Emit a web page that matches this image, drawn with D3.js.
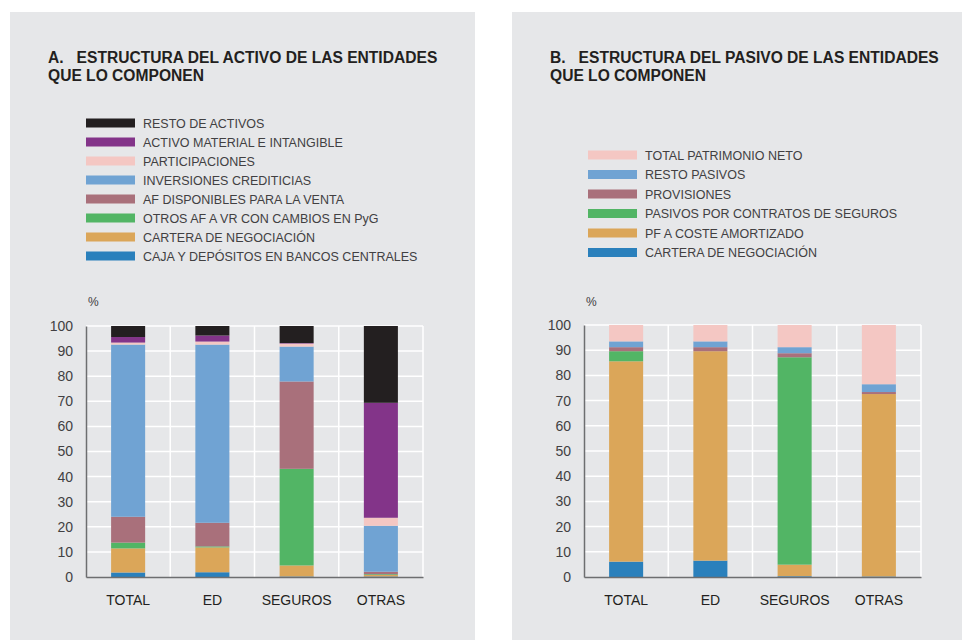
<!DOCTYPE html>
<html>
<head>
<meta charset="utf-8">
<script src="https://cdn.jsdelivr.net/npm/d3@7"></script>
<style>
  body { margin: 0; background: #fff; }
  svg text { font-family: "Liberation Sans", Arial, sans-serif; }
</style>
</head>
<body>
<svg id="chart" width="962" height="640"></svg>
<script>
var categories = ["TOTAL", "ED", "SEGUROS", "OTRAS"];
var yTicks = [0, 10, 20, 30, 40, 50, 60, 70, 80, 90, 100];

// A. activo (bottom to top)
var activoNames = ["CAJA Y DEPÓSITOS EN BANCOS CENTRALES", "CARTERA DE NEGOCIACIÓN", "OTROS AF A VR CON CAMBIOS EN PyG",
  "AF DISPONIBLES PARA LA VENTA", "INVERSIONES CREDITICIAS", "PARTICIPACIONES", "ACTIVO MATERIAL E INTANGIBLE", "RESTO DE ACTIVOS"];
var activoColors = ["#2a80bc", "#dba659", "#52b565", "#a9707b", "#70a3d3", "#f4c7c3", "#833489", "#231f20"];
var activoCaja = [1.8, 1.9, 0.2, 0.2];
var activoCartera = [9.6, 9.9, 4.4, 0.6];
var activoOtrosAF = [2.3, 0.4, 38.5, 0.3];
var activoDisponibles = [10.3, 9.4, 34.8, 1.0];
var activoInversiones = [68.6, 71.0, 13.9, 18.3];
var activoParticipaciones = [0.8, 1.2, 1.2, 3.2];
var activoMaterial = [2.2, 2.4, 0.2, 45.8];
var activoResto = [4.4, 3.8, 6.8, 30.6];

// B. pasivo (bottom to top)
var pasivoNames = ["CARTERA DE NEGOCIACIÓN", "PF A COSTE AMORTIZADO", "PASIVOS POR CONTRATOS DE SEGUROS",
  "PROVISIONES", "RESTO PASIVOS", "TOTAL PATRIMONIO NETO"];
var pasivoColors = ["#2a80bc", "#dba659", "#52b565", "#a9707b", "#70a3d3", "#f4c7c3"];
var pasivoCartera = [6.1, 6.5, 0.3, 0.2];
var pasivoCoste = [79.5, 83.1, 4.6, 72.4];
var pasivoSeguros = [4.0, 0.0, 82.3, 0.0];
var pasivoProvisiones = [1.6, 1.6, 1.6, 0.8];
var pasivoResto = [2.3, 2.3, 2.4, 3.1];
var pasivoPatrimonio = [6.5, 6.5, 8.8, 23.5];

var svg = d3.select("#chart");

function panel(opt) {
  var g = svg.append("g");
  g.append("rect").attr("x", opt.px).attr("y", 12).attr("width", opt.pw).attr("height", 640 - 12)
    .attr("fill", "#e6e7e9");

  g.selectAll("text.title").data(opt.title).enter().append("text")
    .attr("x", opt.px + 38).attr("y", function(d, i) { return 63 + i * 18; })
    .attr("font-size", 15.6).attr("font-weight", "bold").attr("fill", "#231f20")
    .attr("xml:space", "preserve")
    .text(function(d) { return d; });

  // legend, top entry = top series
  var legendItems = opt.names.map(function(n, i) { return {name: n, color: opt.colors[i]}; }).reverse();
  var lg = g.selectAll("g.leg").data(legendItems).enter().append("g")
    .attr("transform", function(d, i) { return "translate(" + (opt.px + 76) + "," + (opt.legendY + i * opt.legendStep) + ")"; });
  lg.append("rect").attr("x", 0).attr("y", -4.5).attr("width", 49).attr("height", 9)
    .attr("fill", function(d) { return d.color; });
  lg.append("text").attr("x", 57).attr("y", 4.5).attr("font-size", 12.5).attr("fill", "#414042")
    .text(function(d) { return d.name; });

  var x0 = opt.ax, x1 = opt.ax + 337;
  var x = d3.scaleBand().domain(categories).range([x0, x1]).paddingInner(0.596).paddingOuter(0.298);
  var y = d3.scaleLinear().domain([0, 100]).range([577, opt.y100]);

  // grid
  g.selectAll("line.hg").data(yTicks.slice(1)).enter().append("line")
    .attr("x1", x0).attr("x2", x1).attr("y1", function(d) { return y(d); }).attr("y2", function(d) { return y(d); })
    .attr("stroke", "#fff").attr("stroke-width", 1.5);
  var step = x.step();
  g.selectAll("line.vg").data(categories).enter().append("line")
    .attr("x1", function(d, i) { return x0 + step * (i + 1); }).attr("x2", function(d, i) { return x0 + step * (i + 1); })
    .attr("y1", y(0)).attr("y2", y(100))
    .attr("stroke", "#fff").attr("stroke-width", 1.5);

  var rows = categories.map(function(c, i) {
    var r = {cat: c};
    opt.series.forEach(function(s, k) { r[k] = s[i]; });
    return r;
  });
  var stack = d3.stack().keys(opt.series.map(function(s, k) { return k; }))(rows);

  g.selectAll("g.layer").data(stack).enter().append("g")
    .attr("fill", function(d, k) { return opt.colors[k]; })
    .selectAll("rect").data(function(d) { return d; }).enter().append("rect")
    .attr("x", function(d) { return x(d.data.cat); })
    .attr("width", x.bandwidth())
    .attr("y", function(d) { return y(d[1]); })
    .attr("height", function(d) { return Math.max(0, y(d[0]) - y(d[1])); });

  // axes
  var yAxis = g.append("g").attr("transform", "translate(" + x0 + ",0)")
    .call(d3.axisLeft(y).tickValues(yTicks).tickSize(0).tickPadding(13));
  yAxis.select(".domain").attr("stroke", "#6d6e70").attr("stroke-width", 1.5);
  yAxis.selectAll("text").attr("font-size", 14).attr("fill", "#414042").attr("font-family", "Liberation Sans, Arial, sans-serif");

  var xAxis = g.append("g").attr("transform", "translate(0,577)")
    .call(d3.axisBottom(x).tickSize(0).tickPadding(18));
  xAxis.select(".domain").attr("stroke", "#6d6e70").attr("stroke-width", 1.5);
  xAxis.selectAll("text").attr("font-size", 14).attr("fill", "#231f20").attr("font-family", "Liberation Sans, Arial, sans-serif");

  g.append("text").attr("x", x0 + 2).attr("y", 306).attr("font-size", 12).attr("fill", "#414042").text("%");
}

panel({
  px: 10, pw: 465, ax: 86, y100: 326,
  title: ["A.   ESTRUCTURA DEL ACTIVO DE LAS ENTIDADES", "QUE LO COMPONEN"],
  names: activoNames, colors: activoColors, legendY: 123, legendStep: 19,
  series: [activoCaja, activoCartera, activoOtrosAF, activoDisponibles, activoInversiones, activoParticipaciones, activoMaterial, activoResto]
});
panel({
  px: 512, pw: 450, ax: 584, y100: 325,
  title: ["B.   ESTRUCTURA DEL PASIVO DE LAS ENTIDADES", "QUE LO COMPONEN"],
  names: pasivoNames, colors: pasivoColors, legendY: 155, legendStep: 19.5,
  series: [pasivoCartera, pasivoCoste, pasivoSeguros, pasivoProvisiones, pasivoResto, pasivoPatrimonio]
});
</script>
</body>
</html>
